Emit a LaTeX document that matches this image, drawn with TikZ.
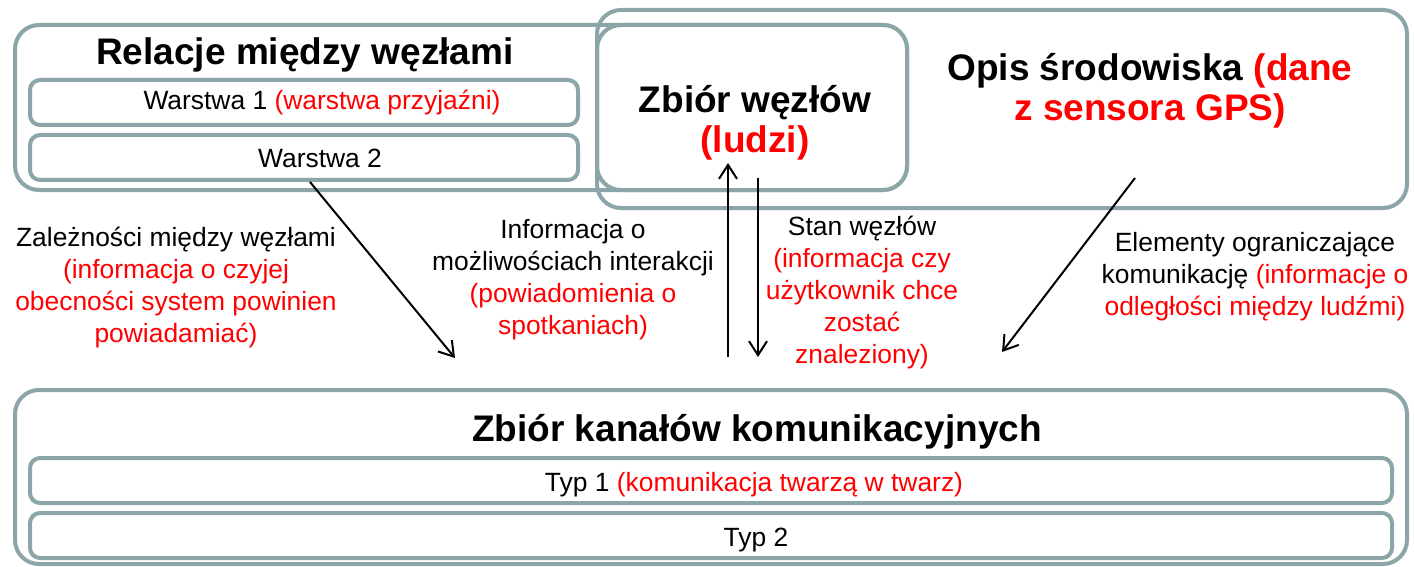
\documentclass[tikz,border=0pt]{standalone}
\usepackage{fontspec}
\setmainfont{Liberation Sans}
\usepackage{xcolor}
\usepackage{tikz}
\usetikzlibrary{positioning,calc,arrows.meta}
\definecolor{framegray}{HTML}{8CA5A8}
\newcommand{\rtxt}[1]{\textcolor{red}{#1}}

\begin{document}
\begin{tikzpicture}[x=0.5pt,y=-0.5pt,
    bigbox/.style={draw=framegray,line width=2pt,rounded corners=12pt,inner sep=0pt},
    layerbox/.style={draw=framegray,line width=2pt,rounded corners=5pt,inner sep=0pt},
    title/.style={font=\fontsize{18.5}{20}\selectfont\bfseries,align=center},
    txt/.style={font=\fontsize{13.2}{16}\selectfont,align=center},
    flow/.style={line width=1pt,-{Straight Barb[length=7pt,width=9pt]}}]
    \useasboundingbox (0,0) rectangle (1414,567);

    % top left: relations
    \node[bigbox,fill=white,minimum width=446pt,minimum height=82.5pt] (rel) at (461,107.5) {};
    \node[layerbox,minimum width=274pt,minimum height=22.5pt] (w1) at (304,102.5) {};
    \node[layerbox,minimum width=274pt,minimum height=22.5pt] (w2) at (304,157.5) {};
    \node[title] (reltitle) at (305,55) {Relacje między węzłami};
    \node[txt] (w1txt) at (322,103) {Warstwa 1 \rtxt{(warstwa przyjaźni)}};
    \node[txt] (w2txt) at (320,158) {Warstwa 2};

    % nodes and environment
    \node[bigbox,fill=white,minimum width=155pt,minimum height=82.5pt] (nodes) at (752,107.5) {};
    \node[bigbox,minimum width=405pt,minimum height=99pt] (env) at (1002,109) {};
    \node[title] (nodestxt) at (755,123) {Zbiór węzłów\\\rtxt{(ludzi)}};
    \node[title] (envtxt) at (1150,91) {Opis środowiska \rtxt{(dane}\\\rtxt{z sensora GPS)}};

    % bottom: channels
    \node[bigbox,minimum width=696pt,minimum height=87pt] (chan) at (711,477) {};
    \node[layerbox,minimum width=681pt,minimum height=22.5pt] (t1) at (711,480.5) {};
    \node[layerbox,minimum width=681pt,minimum height=22.5pt] (t2) at (711,535.5) {};
    \node[title] (chantitle) at (757,432) {Zbiór kanałów komunikacyjnych};
    \node[txt] (t1txt) at (754,485) {Typ 1 \rtxt{(komunikacja twarzą w twarz)}};
    \node[txt] (t2txt) at (756,540) {Typ 2};

    % labels of the flows
    \node[txt] (deps) at (176,288) {Zależności między węzłami\\\rtxt{(informacja o czyjej}\\\rtxt{obecności system powinien}\\\rtxt{powiadamiać)}};
    \node[txt] (info) at (573,280) {Informacja o\\możliwościach interakcji\\\rtxt{(powiadomienia o}\\\rtxt{spotkaniach)}};
    \node[txt] (state) at (862,293) {Stan węzłów\\\rtxt{(informacja czy}\\\rtxt{użytkownik chce}\\\rtxt{zostać}\\\rtxt{znaleziony)}};
    \node[txt] (limits) at (1255,277) {Elementy ograniczające\\komunikację \rtxt{(informacje o}\\\rtxt{odległości między ludźmi)}};

    \coordinate (depsend) at (455,358);
    \coordinate (upstart) at (728,357);
    \coordinate (uptip) at (728,163);
    \coordinate (downstart) at (758,178);
    \coordinate (downtip) at (758,357);
    \coordinate (envstart) at (1135,178);
    \coordinate (envend) at (1002,352);

    \draw[flow] ($(w2.south)+(6,0)$) -- (depsend);
    \draw[flow] (upstart) -- (uptip);
    \draw[flow] (downstart) -- (downtip);
    \draw[flow] (envstart) -- (envend);
\end{tikzpicture}
\end{document}
